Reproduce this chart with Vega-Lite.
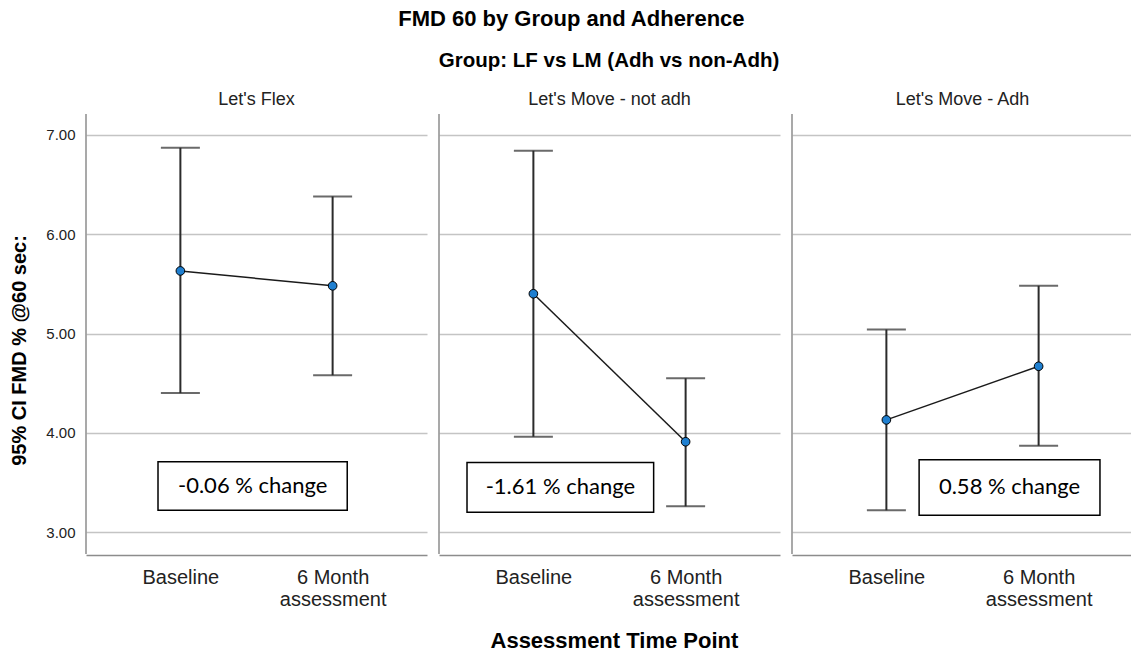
{
  "$schema": "https://vega.github.io/schema/vega-lite/v6.json",
  "background": "white",
  "padding": {"left": 9, "right": 0, "top": 7, "bottom": 2},
  "title": {"text": "FMD 60 by Group and Adherence", "fontSize": 22, "font": "Liberation Sans", "fontWeight": "bold", "anchor": "middle", "color": "#000", "offset": 20},
  "datasets": {
    "rows": [
      {"kind": "ci", "group": "Let's Flex", "time": "Baseline", "t": 0, "mean": 5.63, "lo": 4.40, "hi": 6.87},
      {"kind": "ci", "group": "Let's Flex", "time": "6 Month assessment", "t": 1, "mean": 5.48, "lo": 4.58, "hi": 6.38},
      {"kind": "ci", "group": "Let's Move - not adh", "time": "Baseline", "t": 0, "mean": 5.40, "lo": 3.96, "hi": 6.84},
      {"kind": "ci", "group": "Let's Move - not adh", "time": "6 Month assessment", "t": 1, "mean": 3.91, "lo": 3.26, "hi": 4.55},
      {"kind": "ci", "group": "Let's Move - Adh", "time": "Baseline", "t": 0, "mean": 4.13, "lo": 3.22, "hi": 5.04},
      {"kind": "ci", "group": "Let's Move - Adh", "time": "6 Month assessment", "t": 1, "mean": 4.67, "lo": 3.87, "hi": 5.48},
      {"kind": "note", "group": "Let's Flex", "x1": -0.147, "x2": 1.096, "y1": 3.22, "y2": 3.71, "xc": 0.475, "yc": 3.465, "label": "-0.06 % change"},
      {"kind": "note", "group": "Let's Move - not adh", "x1": -0.436, "x2": 0.79, "y1": 3.20, "y2": 3.70, "xc": 0.177, "yc": 3.45, "label": "-1.61 % change"},
      {"kind": "note", "group": "Let's Move - Adh", "x1": 0.215, "x2": 1.403, "y1": 3.17, "y2": 3.73, "xc": 0.809, "yc": 3.45, "label": "0.58 % change"}
    ]
  },
  "vconcat": [
    {
      "data": {"name": "rows"},
      "title": {"text": "Assessment Time Point", "orient": "bottom", "fontSize": 22, "font": "Liberation Sans", "fontWeight": "bold", "anchor": "middle", "color": "#000", "offset": 22, "dx": 43},
      "facet": {
        "column": {
          "field": "group", "type": "nominal",
          "sort": ["Let's Flex", "Let's Move - not adh", "Let's Move - Adh"],
          "title": "Group: LF vs LM (Adh vs non-Adh)",
          "header": {
            "titleFontSize": 20.5, "titleFont": "Liberation Sans", "titleFontWeight": "bold", "titleColor": "#000", "titlePadding": 10,
            "labelFontSize": 18, "labelFont": "Liberation Sans", "labelColor": "#222", "labelPadding": 4
          }
        }
      },
      "spacing": 11,
      "spec": {
        "width": 341,
        "height": 440,
        "layer": [
          {
            "transform": [{"filter": "datum.kind == 'ci'"}],
            "mark": {"type": "rule", "color": "#2b2b2b", "strokeWidth": 2},
            "encoding": {
              "x": {"field": "t", "type": "quantitative", "scale": {"domain": [-0.62, 1.62], "nice": false, "zero": false},
                "axis": {"title": null, "values": [0, 1], "labelExpr": "datum.value == 0 ? 'Baseline' : ['6 Month', 'assessment']"}},
              "y": {"field": "lo", "type": "quantitative", "scale": {"domain": [2.78, 7.21], "nice": false, "zero": false},
                "axis": {"title": "95% CI FMD % @60 sec:", "values": [3, 4, 5, 6, 7], "format": ".2f", "titleY": 236}},
              "y2": {"field": "hi"}
            }
          },
          {
            "transform": [{"filter": "datum.kind == 'note'"}],
            "mark": {"type": "rule", "color": "#8c8c8c", "strokeWidth": 1.5},
            "encoding": {
              "x": {"datum": -0.62, "type": "quantitative"}
            }
          },
          {
            "transform": [{"filter": "datum.kind == 'note'"}],
            "mark": {"type": "rect", "fill": "white", "stroke": "#000", "strokeWidth": 1.5},
            "encoding": {
              "x": {"field": "x1", "type": "quantitative"},
              "x2": {"field": "x2"},
              "y": {"field": "y1", "type": "quantitative"},
              "y2": {"field": "y2"}
            }
          },
          {
            "transform": [{"filter": "datum.kind == 'note'"}],
            "mark": {"type": "text", "font": "Lato", "fontSize": 22, "color": "#000", "align": "center", "baseline": "middle"},
            "encoding": {
              "x": {"field": "xc", "type": "quantitative"},
              "y": {"field": "yc", "type": "quantitative"},
              "text": {"field": "label"}
            }
          },
          {
            "transform": [{"filter": "datum.kind == 'ci'"}],
            "mark": {"type": "tick", "orient": "horizontal", "color": "#2b2b2b", "size": 39, "thickness": 2},
            "encoding": {
              "x": {"field": "t", "type": "quantitative"},
              "y": {"field": "lo", "type": "quantitative"}
            }
          },
          {
            "transform": [{"filter": "datum.kind == 'ci'"}],
            "mark": {"type": "tick", "orient": "horizontal", "color": "#2b2b2b", "size": 39, "thickness": 2},
            "encoding": {
              "x": {"field": "t", "type": "quantitative"},
              "y": {"field": "hi", "type": "quantitative"}
            }
          },
          {
            "transform": [{"filter": "datum.kind == 'ci'"}],
            "mark": {"type": "line", "color": "#1a1a1a", "strokeWidth": 1.5},
            "encoding": {
              "x": {"field": "t", "type": "quantitative"},
              "y": {"field": "mean", "type": "quantitative"}
            }
          },
          {
            "transform": [{"filter": "datum.kind == 'ci'"}],
            "mark": {"type": "point", "filled": true, "fill": "#1f7fd0", "stroke": "#000", "strokeWidth": 1, "size": 75, "opacity": 1, "fillOpacity": 1},
            "encoding": {
              "x": {"field": "t", "type": "quantitative"},
              "y": {"field": "mean", "type": "quantitative"}
            }
          }
        ]
      }
    }
  ],
  "config": {
    "view": {"stroke": null},
    "font": "Liberation Sans",
    "axisX": {"ticks": false, "grid": false, "domainColor": "#8c8c8c", "domainWidth": 1.5, "labelFontSize": 20, "labelFont": "Liberation Sans", "labelColor": "#222", "labelPadding": 12, "labelLineHeight": 22, "labelBaseline": "top"},
    "axisY": {"grid": true, "gridColor": "#c4c4c4", "gridWidth": 1.5, "domain": false, "ticks": false, "labelFontSize": 15, "labelFont": "Liberation Sans", "labelColor": "#222", "labelPadding": 10, "titleFontSize": 20, "titleFont": "Liberation Sans", "titleFontWeight": "bold", "titleColor": "#000", "titlePadding": 16}
  }
}
